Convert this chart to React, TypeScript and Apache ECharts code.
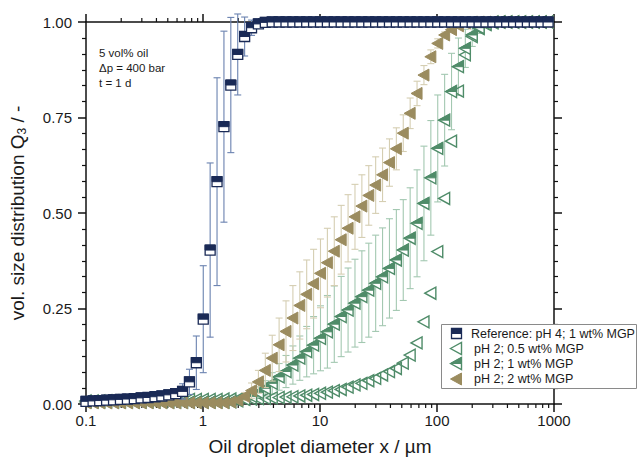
import React, { useEffect, useRef } from 'react';
import * as echarts from 'echarts';

// Particle size classes (µm)
const sizes = [0.1, 0.115, 0.131, 0.15, 0.172, 0.197, 0.226, 0.259, 0.296, 0.339, 0.389, 0.445, 0.51, 0.584, 0.669, 0.766, 0.877, 1.005, 1.151, 1.318, 1.51, 1.729, 1.981, 2.269, 2.599, 2.976, 3.409, 3.905, 4.472, 5.122, 5.867, 6.72, 7.697, 8.816, 10.097, 11.565, 13.246, 15.172, 17.377, 19.904, 22.797, 26.111, 29.907, 34.255, 39.234, 44.938, 51.471, 58.953, 67.523, 77.339, 88.583, 101.46, 116.21, 133.1, 152.45, 174.62, 200.0, 229.08, 262.38, 300.52, 344.21, 394.24, 451.56, 517.2, 592.39, 678.5, 777.14, 890.12];

// Reference: pH 4; 1 wt% MGP
const qRef = [0.007, 0.008, 0.009, 0.010, 0.011, 0.012, 0.013, 0.014, 0.016, 0.017, 0.019, 0.021, 0.024, 0.027, 0.033, 0.058, 0.108, 0.222, 0.403, 0.582, 0.726, 0.835, 0.915, 0.962, 0.985, 0.995, 0.999, 1, 1, 1, 1, 1, 1, 1, 1, 1, 1, 1, 1, 1, 1, 1, 1, 1, 1, 1, 1, 1, 1, 1, 1, 1, 1, 1, 1, 1, 1, 1, 1, 1, 1, 1, 1, 1, 1, 1, 1, 1];
const errRef = [0.002, 0.002, 0.002, 0.002, 0.002, 0.002, 0.002, 0.002, 0.002, 0.002, 0.002, 0.002, 0.002, 0.004, 0.02, 0.033, 0.07, 0.14, 0.228, 0.272, 0.25, 0.177, 0.106, 0.051, 0.02, 0.008, 0.002, 0, 0, 0, 0, 0, 0, 0, 0, 0, 0, 0, 0, 0, 0, 0, 0, 0, 0, 0, 0, 0, 0, 0, 0, 0, 0, 0, 0, 0, 0, 0, 0, 0, 0, 0, 0, 0, 0, 0, 0, 0];

// pH 2; 0.5 wt% MGP
const q05 = [0.008, 0.008, 0.008, 0.009, 0.009, 0.009, 0.009, 0.010, 0.010, 0.010, 0.010, 0.011, 0.011, 0.011, 0.011, 0.012, 0.012, 0.012, 0.012, 0.012, 0.013, 0.013, 0.013, 0.013, 0.013, 0.014, 0.015, 0.016, 0.017, 0.018, 0.019, 0.021, 0.023, 0.025, 0.028, 0.031, 0.035, 0.038, 0.044, 0.05, 0.054, 0.061, 0.067, 0.076, 0.085, 0.093, 0.107, 0.128, 0.16, 0.215, 0.29, 0.399, 0.538, 0.688, 0.819, 0.914, 0.962, 0.983, 0.993, 0.998, 1, 1, 1, 1, 1, 1, 1, 1];

// pH 2; 1 wt% MGP
const q1 = [0.005, 0.005, 0.005, 0.005, 0.005, 0.005, 0.005, 0.005, 0.005, 0.005, 0.005, 0.005, 0.005, 0.005, 0.005, 0.005, 0.005, 0.005, 0.005, 0.005, 0.005, 0.006, 0.008, 0.012, 0.02, 0.03, 0.041, 0.054, 0.071, 0.085, 0.102, 0.12, 0.137, 0.154, 0.172, 0.189, 0.209, 0.229, 0.246, 0.264, 0.281, 0.298, 0.316, 0.333, 0.355, 0.377, 0.403, 0.434, 0.473, 0.525, 0.592, 0.669, 0.743, 0.818, 0.883, 0.931, 0.966, 0.985, 0.995, 1, 1, 1, 1, 1, 1, 1, 1, 1];
const err1 = [0, 0, 0, 0, 0, 0, 0, 0, 0, 0, 0, 0, 0, 0, 0, 0, 0, 0, 0, 0, 0, 0, 0, 0.005, 0.01, 0.015, 0.02, 0.028, 0.035, 0.042, 0.05, 0.058, 0.066, 0.075, 0.085, 0.095, 0.1, 0.105, 0.11, 0.115, 0.12, 0.123, 0.126, 0.128, 0.13, 0.132, 0.132, 0.132, 0.14, 0.15, 0.15, 0.14, 0.12, 0.1, 0.075, 0.05, 0.03, 0.015, 0.006, 0, 0, 0, 0, 0, 0, 0, 0, 0];

// pH 2; 2 wt% MGP
const q2 = [0.003, 0.003, 0.003, 0.003, 0.003, 0.003, 0.003, 0.003, 0.003, 0.003, 0.003, 0.003, 0.003, 0.003, 0.003, 0.003, 0.003, 0.003, 0.003, 0.003, 0.003, 0.005, 0.01, 0.02, 0.035, 0.058, 0.088, 0.12, 0.155, 0.19, 0.225, 0.258, 0.287, 0.315, 0.342, 0.37, 0.4, 0.43, 0.46, 0.49, 0.518, 0.546, 0.573, 0.6, 0.632, 0.668, 0.709, 0.761, 0.813, 0.861, 0.909, 0.944, 0.966, 0.98, 0.99, 0.997, 1, 1, 1, 1, 1, 1, 1, 1, 1, 1, 1, 1];
const err2 = [0, 0, 0, 0, 0, 0, 0, 0, 0, 0, 0, 0, 0, 0, 0, 0, 0, 0, 0, 0, 0, 0, 0, 0.01, 0.02, 0.03, 0.045, 0.06, 0.07, 0.08, 0.085, 0.088, 0.09, 0.09, 0.09, 0.09, 0.09, 0.09, 0.088, 0.085, 0.082, 0.078, 0.074, 0.07, 0.062, 0.055, 0.048, 0.04, 0.032, 0.025, 0.018, 0.012, 0.008, 0.005, 0, 0, 0, 0, 0, 0, 0, 0, 0, 0, 0, 0, 0, 0];

const xTickLabels = ['0.1', '1', '10', '100', '1000'];
const yTickLabels = ['0.00', '0.25', '0.50', '0.75', '1.00'];
const minorXTicks = [0.2, 0.3, 0.4, 0.5, 0.6, 0.7, 0.8, 0.9, 2, 3, 4, 5, 6, 7, 8, 9, 20, 30, 40, 50, 60, 70, 80, 90, 200, 300, 400, 500, 600, 700, 800, 900];
const legendNames = ['Reference: pH 4; 1 wt% MGP', 'pH 2; 0.5 wt% MGP', 'pH 2; 1 wt% MGP', 'pH 2; 2 wt% MGP'];
const notes = ['5 vol% oil', '\u0394p = 400 bar', 't = 1 d'];

const FONT = '"Liberation Sans", Arial, Helvetica, sans-serif';
const NAVY = '#1a2a56';
const NAVY_BAR = '#6a82b0';
const GREEN = '#4f8c69';
const GREEN_BAR = '#a3c8b1';
const KHAKI = '#9b8c5f';
const KHAKI_BAR = '#d5ceb2';
const AXIS = '#111';

const tri = (cx: number, cy: number) => [[cx - 6, cy], [cx + 5, cy - 6], [cx + 5, cy + 6]];
const drawSquare = (cx: number, cy: number, z = 0) => ({
  type: 'group', children: [
    { type: 'rect', z, shape: { x: cx - 5, y: cy - 5, width: 10, height: 10 }, style: { fill: '#fff', stroke: NAVY, lineWidth: 1.3 } },
    { type: 'rect', z, shape: { x: cx - 5, y: cy - 5, width: 10, height: 5 }, style: { fill: NAVY, stroke: NAVY, lineWidth: 1 } },
  ],
});
const drawOpenTri = (cx: number, cy: number, z = 0) => ({
  type: 'polygon', z, shape: { points: tri(cx, cy) }, style: { fill: 'rgba(255,255,255,0)', stroke: GREEN, lineWidth: 1.4 },
});
const drawHalfTri = (cx: number, cy: number, z = 0) => ({
  type: 'group', children: [
    { type: 'polygon', z, shape: { points: tri(cx, cy) }, style: { fill: '#fff', stroke: GREEN, lineWidth: 1.4 } },
    { type: 'polygon', z, shape: { points: [[cx - 6, cy], [cx + 5, cy - 6], [cx + 5, cy]] }, style: { fill: GREEN, stroke: GREEN, lineWidth: 1 } },
  ],
});
const drawFullTri = (cx: number, cy: number, z = 0) => ({
  type: 'polygon', z, shape: { points: tri(cx, cy) }, style: { fill: KHAKI, stroke: KHAKI, lineWidth: 1 },
});

function errSeries(name: string, q: number[], err: number[], color: string) {
  return {
    type: 'custom', name, silent: true,
    data: sizes.map((x, i) => [x, q[i], err[i]]),
    encode: { x: 0, y: 1 },
    renderItem: (params: any, api: any) => {
      const x = api.value(0), y = api.value(1), e = api.value(2);
      if (!(e > 0.0005)) return null;
      const t = api.coord([x, y + e]);
      const b = api.coord([x, y - e]);
      const hw = 3.5;
      const st = { stroke: color, lineWidth: 1.1 };
      return {
        type: 'group', children: [
          { type: 'line', shape: { x1: t[0], y1: t[1], x2: b[0], y2: b[1] }, style: st },
          { type: 'line', shape: { x1: t[0] - hw, y1: t[1], x2: t[0] + hw, y2: t[1] }, style: st },
          { type: 'line', shape: { x1: b[0] - hw, y1: b[1], x2: b[0] + hw, y2: b[1] }, style: st },
        ],
      };
    },
  };
}

function markerSeries(name: string, q: number[], draw: (cx: number, cy: number) => any) {
  return {
    type: 'custom', name, silent: true,
    data: sizes.map((x, i) => [x, q[i]]),
    encode: { x: 0, y: 1 },
    renderItem: (params: any, api: any) => {
      const p = api.coord([api.value(0), api.value(1)]);
      return draw(p[0], p[1]);
    },
  };
}

const fmtX = (v: number) => {
  const s = xTickLabels.find((l) => Math.abs(parseFloat(l) - v) < 1e-6 * Math.max(v, 1e-9) + 1e-9);
  return s ?? '';
};
const fmtY = (v: number) => {
  const s = yTickLabels.find((l) => Math.abs(parseFloat(l) - v) < 1e-6);
  return s ?? '';
};

export default function App() {
  const ref = useRef<HTMLDivElement>(null);
  useEffect(() => {
    if (!ref.current) return;
    const chart = echarts.init(ref.current, undefined, { renderer: 'svg' });
    const lineStyle = { color: AXIS, width: 1.5 };
    const baseX = {
      type: 'log', logBase: 10, min: 0.1, max: 1000,
      axisLine: { show: true, onZero: false, lineStyle },
      axisTick: { show: true, inside: false, length: 8, lineStyle },
      splitLine: { show: false },
    };
    const baseY = {
      type: 'value', min: 0, max: 1, interval: 0.25,
      axisLine: { show: true, onZero: false, lineStyle },
      axisTick: { show: true, inside: false, length: 8, lineStyle },
      minorTick: { show: true, splitNumber: 6, length: 4, lineStyle: { color: AXIS, width: 1.2 } },
      splitLine: { show: false },
      minorSplitLine: { show: false },
    };
    const legendRows = [333.5, 348.5, 363.5, 379];
    const iconX = 456.5;
    const legendDraw = [drawSquare, drawOpenTri, drawHalfTri, drawFullTri];
    const graphics: any[] = [
      { type: 'rect', z: 100, shape: { x: 441.5, y: 324.5, width: 195, height: 64 }, style: { fill: '#fff', stroke: '#8a8a8a', lineWidth: 1 } },
    ];
    legendNames.forEach((n, i) => {
      const ic = legendDraw[i](iconX, legendRows[i], 101);
      graphics.push({ ...ic, z: 101 });
      graphics.push({
        type: 'text', z: 101, x: i === 0 ? 471 : 474, y: legendRows[i],
        style: { text: n, fontSize: 12.5, fontFamily: FONT, fill: '#1a1a1a', verticalAlign: 'middle', align: 'left' },
      });
    });
    notes.forEach((n, i) => {
      graphics.push({
        type: 'text', z: 101, x: 99, y: [52.7, 68.3, 83][i],
        style: { text: n, fontSize: 11.5, fontFamily: FONT, fill: '#1a1a1a', verticalAlign: 'middle', align: 'left' },
      });
    });

    chart.setOption({
      animation: false,
      backgroundColor: '#fff',
      grid: { left: 85, right: 83, top: 22, bottom: 59, containLabel: false },
      xAxis: [
        {
          ...baseX, position: 'bottom',
          axisLabel: { formatter: fmtX, fontSize: 15, color: '#1a1a1a', fontFamily: FONT, margin: 9 },
          name: 'Oil droplet diameter x / \u00b5m', nameLocation: 'middle', nameGap: 33,
          nameTextStyle: { fontSize: 19, color: '#1a1a1a', fontFamily: FONT },
        },
        { ...baseX, position: 'top', axisLabel: { show: false } },
      ],
      yAxis: [
        {
          ...baseY, position: 'left',
          axisLabel: { formatter: fmtY, fontSize: 15, color: '#1a1a1a', fontFamily: FONT, margin: 14 },
          name: 'vol. size distribution Q{sub|3} / -', nameLocation: 'middle', nameGap: 58, nameRotate: 90,
          nameTextStyle: {
            fontSize: 19, color: '#1a1a1a', fontFamily: FONT,
            rich: { sub: { fontSize: 12, color: '#1a1a1a', fontFamily: FONT, verticalAlign: 'bottom', padding: [9, 0, 0, 0] } },
          },
        },
        { ...baseY, position: 'right', axisLabel: { show: false } },
      ],
      graphic: { elements: graphics },
      series: [
        {
          type: 'custom', name: 'minorTicks', silent: true,
          data: minorXTicks.map((v) => [v, 0]),
          encode: { x: 0, y: 1 },
          renderItem: (params: any, api: any) => {
            const p = api.coord([api.value(0), 0]);
            const cs = params.coordSys;
            const st = { stroke: AXIS, lineWidth: 1.2 };
            return {
              type: 'group', children: [
                { type: 'line', shape: { x1: p[0], y1: cs.y + cs.height, x2: p[0], y2: cs.y + cs.height + 4 }, style: st },
                { type: 'line', shape: { x1: p[0], y1: cs.y, x2: p[0], y2: cs.y - 4 }, style: st },
              ],
            };
          },
        },
        errSeries('err1', q1, err1, GREEN_BAR),
        markerSeries(legendNames[1], q05, drawOpenTri),
        markerSeries(legendNames[2], q1, drawHalfTri),
        errSeries('err2', q2, err2, KHAKI_BAR),
        markerSeries(legendNames[3], q2, drawFullTri),
        errSeries('errRef', qRef, errRef, NAVY_BAR),
        markerSeries(legendNames[0], qRef, drawSquare),
      ],
    });
    return () => chart.dispose();
  }, []);
  return <div ref={ref} style={{ position: 'fixed', left: 0, top: 0, width: 637, height: 463, background: '#fff' }} />;
}
